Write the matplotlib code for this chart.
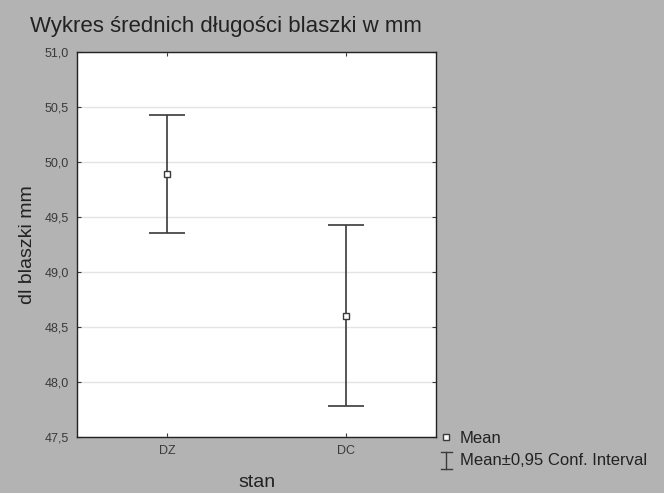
import numpy as np
import matplotlib
matplotlib.use("Agg")
import matplotlib.pyplot as plt
from matplotlib.lines import Line2D
from matplotlib.legend_handler import HandlerBase
from matplotlib.ticker import FuncFormatter

# data
groups = ["DZ", "DC"]
means = [49.89, 48.60]
ci_low = [49.35, 47.78]
ci_high = [50.43, 49.43]
y_ticks = [47.5, 48.0, 48.5, 49.0, 49.5, 50.0, 50.5, 51.0]

plt.rcParams["font.family"] = ["Liberation Sans", "DejaVu Sans"]

bg = "#b3b3b3"
ink = "#3a3a3a"


class HandlerIBeam(HandlerBase):
    # small I-beam symbol for the confidence interval entry
    def create_artists(self, legend, orig_handle, xdescent, ydescent,
                       width, height, fontsize, trans):
        cx = width / 2 - xdescent
        top = height * 1.1
        bot = -height * 0.3
        half = width * 0.4
        kw = dict(color=ink, lw=1.0, transform=trans)
        return [Line2D([cx, cx], [bot, top], **kw),
                Line2D([cx - half, cx + half], [top, top], **kw),
                Line2D([cx - half, cx + half], [bot, bot], **kw)]


fig = plt.figure(figsize=(6.64, 4.93), dpi=100, facecolor=bg)
ax = fig.add_axes([0.116, 0.1136, 0.541, 0.781])
ax.set_facecolor("white")

x = np.arange(1, len(groups) + 1)
means_arr = np.array(means)
yerr = [means_arr - np.array(ci_low), np.array(ci_high) - means_arr]

ax.grid(axis="y", color="#e4e4e4", linewidth=1.0)
ax.set_axisbelow(True)

eb = ax.errorbar(x, means, yerr=yerr, fmt="none", ecolor=ink, elinewidth=1.2,
                 capsize=13, capthick=1.2, zorder=2)
pts, = ax.plot(x, means, "s", ms=5, mfc="white", mec=ink, mew=1.0, zorder=3)

ax.set_xlim(0.5, 2.5)
ax.set_ylim(47.5, 51.0)
ax.set_xticks(x)
ax.set_xticklabels(groups)
ax.set_yticks(y_ticks)
ax.yaxis.set_major_formatter(FuncFormatter(lambda v, p: f"{v:.1f}".replace(".", ",")))
ax.tick_params(axis="both", direction="in", length=3, labelsize=9, colors=ink,
               top=True, right=True, pad=6)
for s in ax.spines.values():
    s.set_color("#222222")
    s.set_linewidth(1.0)

ax.set_xlabel("stan", fontsize=14, color="#222222", labelpad=12)
ax.set_ylabel("dl blaszki mm", fontsize=14, color="#222222", labelpad=6)
fig.text(0.045, 0.925, "Wykres średnich długości blaszki w mm", fontsize=16,
         color="#222222", ha="left", va="bottom")

ci_proxy = Line2D([], [])
fig.legend(handles=[pts, ci_proxy], labels=["Mean", "Mean\u00b10,95 Conf. Interval"],
           handler_map={ci_proxy: HandlerIBeam()},
           loc="upper left", bbox_to_anchor=(0.652, 0.14), frameon=False,
           fontsize=12, handlelength=0.8, handletextpad=0.4, labelspacing=0.45,
           borderaxespad=0, labelcolor="#222222")

fig.savefig("out.png", dpi=100, facecolor=bg)
